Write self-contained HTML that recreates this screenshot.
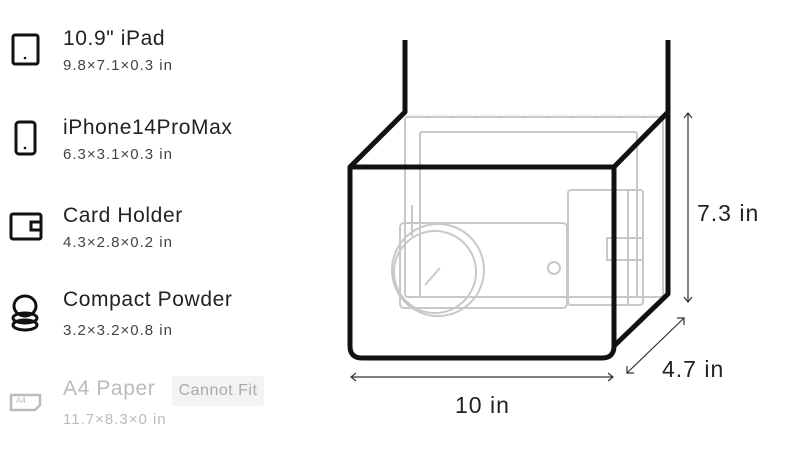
<!DOCTYPE html>
<html><head><meta charset="utf-8"><style>
body{margin:0;width:800px;height:455px;background:#fff;overflow:hidden;font-family:"Liberation Sans",sans-serif;position:relative}
.t{position:absolute;left:63px;font-size:21px;color:#222;letter-spacing:0.6px}
.s{position:absolute;left:63px;font-size:15px;color:#444;letter-spacing:1px}
</style></head><body>
<div class="t" style="top:27px">10.9" iPad</div><div class="s" style="top:57px">9.8×7.1×0.3 in</div>
<div class="t" style="top:116px">iPhone14ProMax</div><div class="s" style="top:146px">6.3×3.1×0.3 in</div>
<div class="t" style="top:204px">Card Holder</div><div class="s" style="top:234px">4.3×2.8×0.2 in</div>
<div class="t" style="top:288px">Compact Powder</div><div class="s" style="top:322px">3.2×3.2×0.8 in</div>
<div class="t" style="top:377px;color:#bbb">A4 Paper</div><div class="s" style="top:411px;color:#bbb">11.7×8.3×0 in</div>
<div style="position:absolute;left:172px;top:376px;width:92px;height:30px;background:#f3f3f6;border-radius:3px;color:#aaa;font-size:16px;line-height:30px;text-align:center;letter-spacing:0.5px">Cannot Fit</div>
<svg width="800" height="455" style="position:absolute;left:0;top:0" fill="none">
<g stroke="#111" stroke-width="3">
<rect x="13" y="35" width="25" height="29" rx="2"/>
<rect x="16" y="122" width="19" height="32" rx="3"/>
<rect x="11" y="214" width="30" height="25" rx="2"/><rect x="31" y="222" width="10" height="8"/>
<ellipse cx="25" cy="306" rx="11" ry="10"/><ellipse cx="25" cy="318" rx="12" ry="5"/><ellipse cx="25" cy="325" rx="12" ry="5"/>
</g>
<circle cx="25" cy="58" r="1.3" fill="#111"/><circle cx="25" cy="148" r="1.3" fill="#111"/>
<g stroke="#bbb" stroke-width="2.5"><path d="M11 395h29v10l-5 5H11z"/></g>
<text x="16" y="403" font-size="8" fill="#bbb" font-family="Liberation Sans">A4</text>
<g stroke="#c8c8c8" stroke-width="2">
<rect x="405" y="117" width="258" height="180" rx="3"/>
<rect x="420" y="132" width="217" height="165" rx="2"/>
<rect x="400" y="223" width="167" height="85" rx="4"/>
<circle cx="554" cy="268" r="6"/>
<rect x="568" y="190" width="75" height="115" rx="3"/>
<rect x="607" y="238" width="36" height="22"/>
<line x1="628" y1="190" x2="628" y2="305"/>
<circle cx="438" cy="270" r="46"/><circle cx="435" cy="272" r="41"/>
<line x1="425" y1="285" x2="440" y2="268"/>
<line x1="412" y1="236" x2="412" y2="205"/>
</g>
<line x1="405" y1="115" x2="668" y2="115" stroke="#ccc" stroke-dasharray="1 2"/>
<g stroke="#111" stroke-width="5" stroke-linejoin="round">
<path d="M405 40V112L350 167"/><path d="M668 40V112L614 167"/>
<path d="M350 167H614V346Q614 358 602 358H362Q350 358 350 346Z"/>
<path d="M668 112V294L614 346"/>
</g>
<g stroke="#333" stroke-width="1.2">
<path d="M351 377H613M356 373l-5 4 5 4M608 373l5 4-5 4"/>
<path d="M688 113V302M684 118l4-5 4 5M684 297l4 5 4-5"/>
<path d="M627 373L684 318M627 366v7h7M677 318h7v7"/>
</g>
<g font-family="Liberation Sans" font-size="23" fill="#222" letter-spacing="1">
<text x="697" y="221">7.3 in</text><text x="662" y="377">4.7 in</text><text x="455" y="413">10 in</text>
</g>
</svg>
</body></html>
